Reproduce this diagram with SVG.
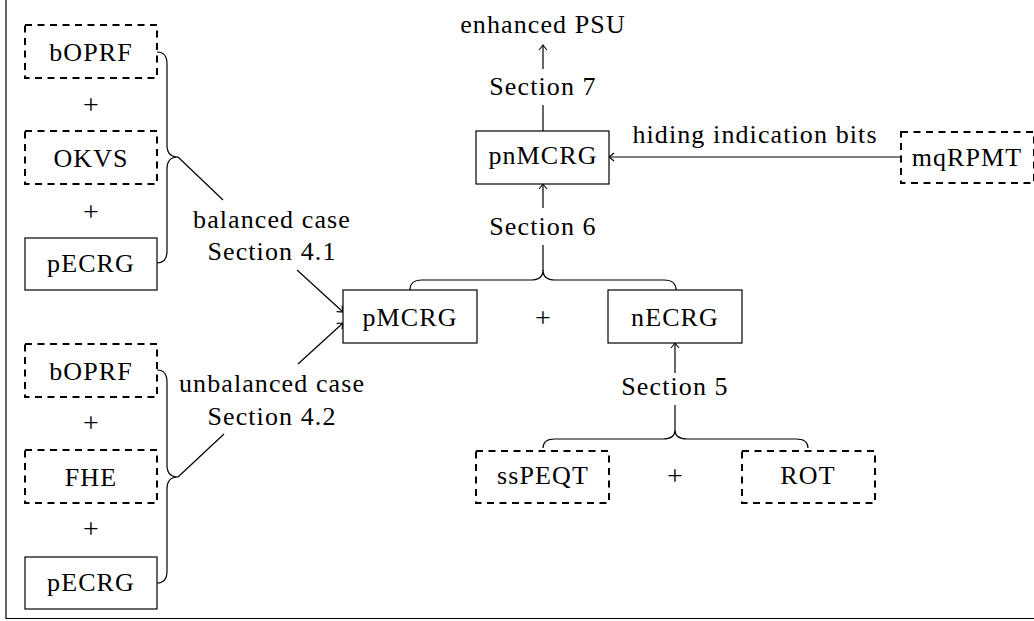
<svg xmlns="http://www.w3.org/2000/svg" width="1034" height="621" viewBox="0 0 1034 621">
<style>
  .t { font-family: "Liberation Serif", "Times New Roman", serif; font-size: 26px; fill: #000; text-anchor: middle; letter-spacing: 1.1px; }
  .p { font-family: "Liberation Serif", "Times New Roman", serif; font-size: 28px; fill: #000; text-anchor: middle; }
  .solid { fill: #fff; stroke: #000; stroke-width: 1.2; }
  .dashed { fill: #fff; stroke: #000; stroke-width: 2; stroke-dasharray: 7 5.5; }
  .ln { fill: none; stroke: #000; stroke-width: 1.2; }
</style>
<defs>
  <marker id="arr" viewBox="-6 -5 8 10" refX="0" refY="0" markerWidth="8" markerHeight="10" markerUnits="userSpaceOnUse" orient="auto">
    <path d="M-5,-4 Q-1.5,-1 0,0 Q-1.5,1 -5,4" fill="none" stroke="#000" stroke-width="1.1"/>
  </marker>
</defs>
<rect width="1034" height="621" fill="#fff"/>
<path d="M6,0 L6,618.5 L1034,618.5" fill="none" stroke="#000" stroke-width="1.2"/>

<g id="connectors">
  <path class="ln" d="M157,52 Q167,52 167,64 L167,145 Q167,157 178,157 Q167,157 167,169 L167,251 Q167,263 157,263"/>
  <path class="ln" d="M157,370 Q167,370 167,382 L167,465 Q167,477 178,477 Q167,477 167,489 L167,571 Q167,583 157,583"/>
  <path class="ln" d="M178,157 L223,200"/>
  <path class="ln" d="M297,270 L343,312" marker-end="url(#arr)"/>
  <path class="ln" d="M178,477 L224,434"/>
  <path class="ln" d="M298,364 L343,323" marker-end="url(#arr)"/>
  <path class="ln" d="M410,290 Q410,280 422,280 L531,280 Q543,280 543,270 Q543,280 555,280 L664,280 Q676,280 676,290"/>
  <path class="ln" d="M543,271 L543,245"/>
  <path class="ln" d="M543,208 L543,184" marker-end="url(#arr)"/>
  <path class="ln" d="M543,131 L543,105"/>
  <path class="ln" d="M543,69 L543,45" marker-end="url(#arr)"/>
  <path class="ln" d="M543,448 Q543,439 555,439 L663,439 Q675,439 675,430 Q675,439 687,439 L796,439 Q808,439 808,448"/>
  <path class="ln" d="M675,430 L675,405"/>
  <path class="ln" d="M675,373 L675,343" marker-end="url(#arr)"/>
  <path class="ln" d="M901,157 L609,157" marker-end="url(#arr)"/>
</g>

<g id="labels">
  <text class="t" x="272" y="228">balanced case</text>
  <text class="t" x="272" y="260">Section 4.1</text>
  <text class="t" x="272" y="392">unbalanced case</text>
  <text class="t" x="272" y="425">Section 4.2</text>
  <text class="t" x="543" y="33">enhanced PSU</text>
  <text class="t" x="543" y="95">Section 7</text>
  <text class="t" x="543" y="235">Section 6</text>
  <text class="t" x="675" y="395">Section 5</text>
  <text class="t" x="755" y="143">hiding indication bits</text>
  <text class="p" x="91" y="114">+</text>
  <text class="p" x="91" y="221">+</text>
  <text class="p" x="91" y="432">+</text>
  <text class="p" x="91" y="538">+</text>
  <text class="p" x="543" y="327">+</text>
  <text class="p" x="675" y="485">+</text>
</g>

<g id="bOPRF1"><rect class="dashed" x="25" y="25" width="132" height="53"/><text class="t" x="91" y="61">bOPRF</text></g>
<g id="OKVS"><rect class="dashed" x="25" y="131" width="132" height="53"/><text class="t" x="91" y="167">OKVS</text></g>
<g id="pECRG1"><rect class="solid" x="25" y="238" width="132" height="52"/><text class="t" x="91" y="272">pECRG</text></g>
<g id="bOPRF2"><rect class="dashed" x="25" y="344" width="132" height="53"/><text class="t" x="91" y="380">bOPRF</text></g>
<g id="FHE"><rect class="dashed" x="25" y="450" width="132" height="53"/><text class="t" x="91" y="486">FHE</text></g>
<g id="pECRG2"><rect class="solid" x="25" y="557" width="132" height="52"/><text class="t" x="91" y="591">pECRG</text></g>
<g id="pMCRG"><rect class="solid" x="343" y="290" width="134" height="53"/><text class="t" x="410" y="326">pMCRG</text></g>
<g id="nECRG"><rect class="solid" x="608" y="290" width="134" height="53"/><text class="t" x="675" y="326">nECRG</text></g>
<g id="pnMCRG"><rect class="solid" x="476" y="131" width="133" height="53"/><text class="t" x="543" y="164">pnMCRG</text></g>
<g id="ssPEQT"><rect class="dashed" x="476" y="451" width="133" height="52"/><text class="t" x="543" y="484">ssPEQT</text></g>
<g id="ROT"><rect class="dashed" x="742" y="451" width="133" height="52"/><text class="t" x="808" y="484">ROT</text></g>
<g id="mqRPMT"><rect class="dashed" x="901" y="132" width="133" height="51"/><text class="t" x="967" y="166">mqRPMT</text></g>
</svg>
